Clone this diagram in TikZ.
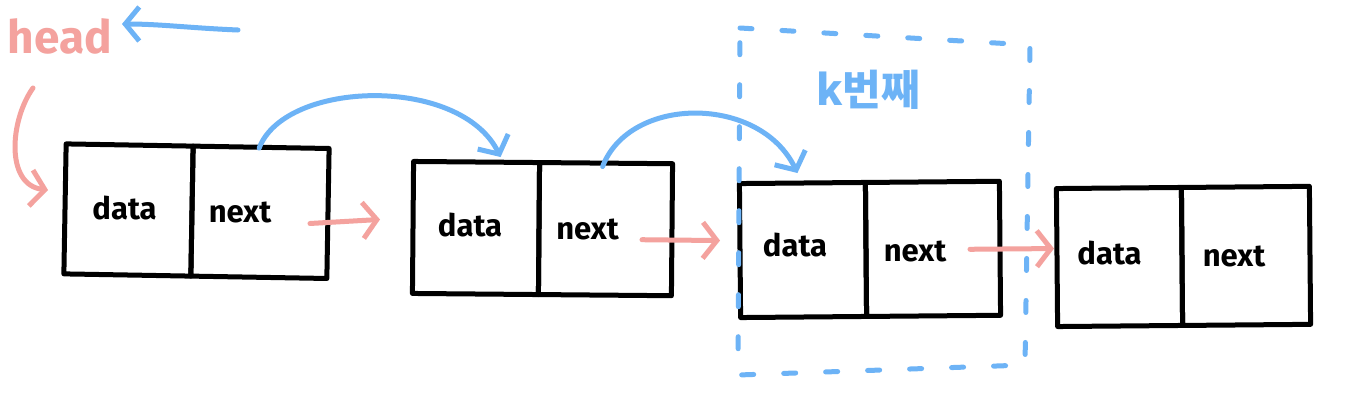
\documentclass[tikz,border=0pt]{standalone}
\usepackage{fontspec}
\setmainfont{Fira Sans}
\newfontfamily\krfont{Noto Sans CJK KR}
\usetikzlibrary{arrows.meta,calc}
\definecolor{penpink}{HTML}{F4A29E}
\definecolor{penblue}{HTML}{6DB3F6}
\tikzset{
  cell/.style={draw=black, line width=5pt, line join=round, minimum height=130pt, inner sep=0pt, outer sep=0pt},
  lbl/.style={font=\fontsize{31}{34}\selectfont\bfseries, inner sep=0pt},
  pinkarrow/.style={draw=penpink, line width=5pt, line cap=round, -{Straight Barb[length=14pt,width=36pt,line width=5pt]}},
  bluearrow/.style={draw=penblue, line width=5pt, line cap=round, -{Straight Barb[length=14pt,width=34pt,line width=5pt]}},
}
\begin{document}
\begin{tikzpicture}[x=1pt,y=-1pt]
\useasboundingbox[fill=white] (0,0) rectangle (1362,408);
% boxes
\node[cell, minimum width=127pt, rotate=-1] (d1) at (128.5,210) {};
\node[cell, minimum width=136pt, anchor=west, rotate=-1] (n1) at (d1.east) {};
\node[cell, minimum width=126pt, minimum height=132pt, rotate=-0.5] (d2) at (476,228) {};
\node[cell, minimum width=133pt, minimum height=132pt, anchor=west, rotate=-0.5] (n2) at (d2.east) {};
\node[cell, minimum width=126pt, minimum height=134pt, rotate=0.5] (d3) at (803,250) {};
\node[cell, minimum width=134pt, minimum height=134pt, anchor=west, rotate=0.5] (n3) at (d3.east) {};
\node[cell, minimum width=125pt, minimum height=138pt, rotate=0.5] (d4) at (1119.5,257) {};
\node[cell, minimum width=128pt, minimum height=138pt, anchor=west, rotate=0.5] (n4) at (d4.east) {};
% labels
\node[lbl] (t1) at ($(d1.center)+(-4,-2)$) {data};
\node[lbl] (u1) at ($(n1.center)+(-20,0)$) {next};
\node[lbl] (t2) at ($(d2.center)+(-6,-3)$) {data};
\node[lbl] (u2) at ($(n2.center)+(-18,0)$) {next};
\node[lbl] (t3) at ($(d3.center)+(-8,-5)$) {data};
\node[lbl] (u3) at ($(n3.center)+(-18,3)$) {next};
\node[lbl] (t4) at ($(d4.center)+(-10,-4)$) {data};
\node[lbl] (u4) at ($(n4.center)+(-12,1)$) {next};
% head
\node[text=penpink, font=\fontsize{46}{50}\selectfont\bfseries, inner sep=0pt] (head) at (60,36) {head};
\coordinate (hb) at (122,24);
\coordinate (hbs) at (238,30);
\draw[bluearrow] (hbs) .. controls (190,28) and (160,24) .. (hb);
\coordinate (hs) at (33,88);
\coordinate (he) at (48,190);
\draw[pinkarrow] (hs) .. controls (10,120) and (5,185) .. (he);
% next arrows
\draw[pinkarrow] ($(n1.east)+(-18,10)$) -- ($(d2.west)+(-33,-8)$);
\draw[pinkarrow] ($(n2.east)+(-30,10)$) -- ($(d3.west)+(-20,-10)$);
\draw[pinkarrow] ($(n3.east)+(-30,1)$) -- ($(d4.west)+(-3,-9)$);
% blue arcs
\draw[bluearrow] ($(n1.north west)+(66,2)$) .. controls (285,80) and (460,75) .. ($(d2.north)+(24,-5)$);
\draw[bluearrow] ($(n2.north west)+(63,4)$) .. controls (630,95) and (760,95) .. ($(d3.north)+(-5,-10)$);
% k-th frame
\draw[penblue, line width=5pt, line cap=round, dash pattern=on 12pt off 30pt] (740,28) -- (1030,45) -- (1025,365) -- (738,375) -- cycle;
\node[text=penblue, font=\krfont\fontsize{42}{46}\selectfont\bfseries, inner sep=0pt] (kth) at (868,90) {k번째};
\end{tikzpicture}
\end{document}
